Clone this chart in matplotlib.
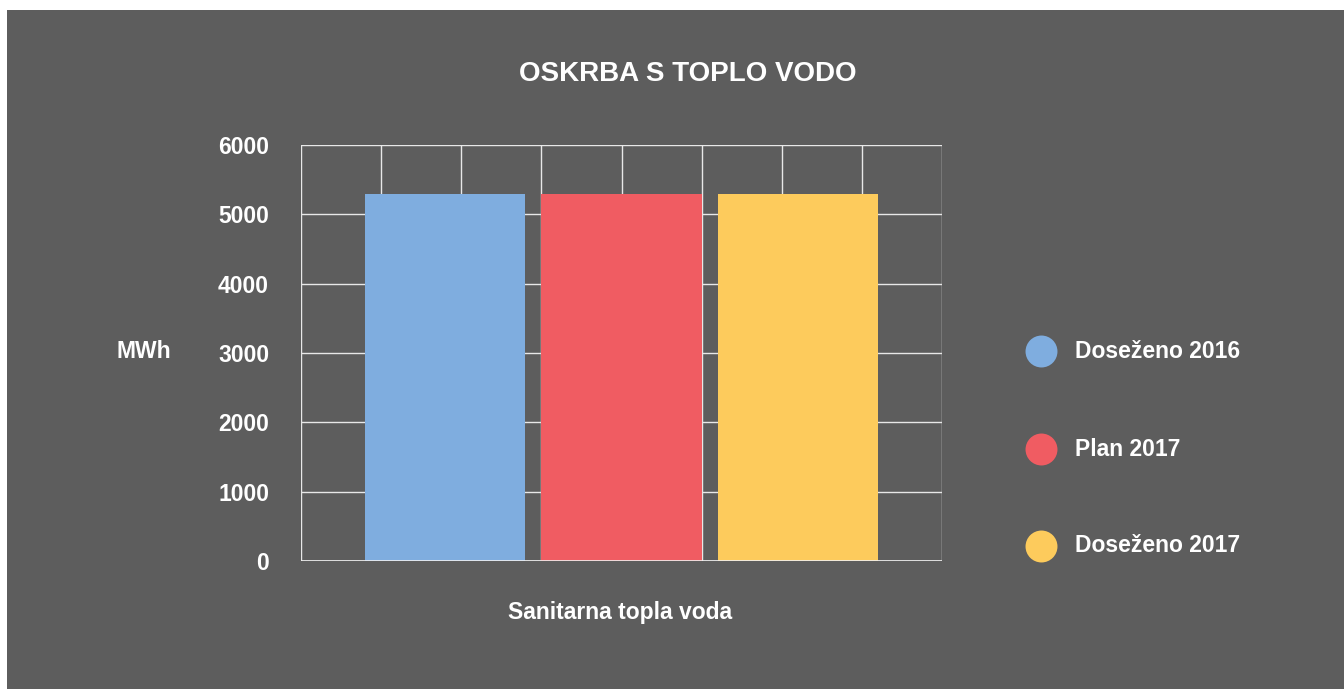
import matplotlib.pyplot as plt
from matplotlib.patches import Rectangle
from matplotlib.lines import Line2D

plt.rcParams['font.family'] = ['Liberation Sans', 'DejaVu Sans']
plt.rcParams['font.weight'] = 'bold'

# Data
series = ['Doseženo 2016', 'Plan 2017', 'Doseženo 2017']
values = [5300, 5300, 5300]
colors = ['#7faddf', '#f05c62', '#fdcb5c']
category = 'Sanitarna topla voda'

bg = '#5d5d5d'
W, H = 1344, 689

fig = plt.figure(figsize=(13.44, 6.89), dpi=100)
fig.patch.set_facecolor('white')
# gray panel with small white margin top/left
fig.patches.append(Rectangle((7 / W, 0), 1 - 7 / W, 1 - 10 / H,
                             transform=fig.transFigure, facecolor=bg,
                             edgecolor='none', zorder=-10))

ax = fig.add_axes([301 / W, 1 - 561 / H, 641 / W, 416 / H])
ax.set_facecolor(bg)

# bars, each 2 units wide on an 8-unit axis
positions = [1.8, 4.0, 6.2]
ax.bar(positions, values, width=2.0, color=colors, zorder=3)

ax.set_xlim(0, 8)
ax.set_ylim(0, 6000)
ax.set_xticks(range(0, 9))
ax.set_xticklabels([])
ax.set_yticks(range(0, 6001, 1000))
ax.grid(True, color='#e8e8e8', linewidth=1, zorder=0)
ax.tick_params(length=0, colors='white', labelsize=16.5, pad=23)
for lab in ax.get_yticklabels():
    lab.set_fontweight('bold')
for s in ax.spines.values():
    s.set_visible(False)
ax.axhline(0, color='#f0f0f0', linewidth=1.2, zorder=4)

fig.text(620 / W, 1 - 612 / H, category, color='white', fontsize=16.5,
         fontweight='bold', ha='center', va='center')
fig.text(144 / W, 1 - 352 / H, 'MWh', color='white', fontsize=16.5,
         fontweight='bold', ha='center', va='center')
fig.text(688 / W, 1 - 74 / H, 'OSKRBA S TOPLO VODO', color='white',
         fontsize=20, fontweight='bold', ha='center', va='center')

# legend: circles + labels
legend_y = [351, 449, 546]
for name, c, y in zip(series, colors, legend_y):
    fig.add_artist(Line2D([1041 / W], [1 - y / H], marker='o', linestyle='none',
                          markersize=23, markerfacecolor=c, markeredgecolor='none',
                          transform=fig.transFigure))
    fig.text(1075 / W, 1 - y / H, name, color='white', fontsize=16.5,
             fontweight='bold', ha='left', va='center')

fig.savefig('out.png', dpi=100, facecolor=fig.get_facecolor())
